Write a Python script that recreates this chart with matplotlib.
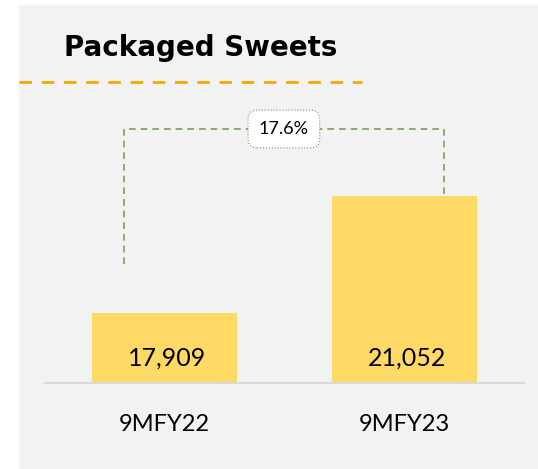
import numpy as np
import matplotlib.pyplot as plt
from matplotlib.patches import Rectangle

# data
categorias = ["9MFY22", "9MFY23"]
valores = [17909, 21052]
crecimiento = "17.6%"
titulo = "Packaged Sweets"

fig = plt.figure(figsize=(5.38, 4.69), dpi=100)
fig.patch.set_facecolor("white")

# fondo gris del panel
fig.patches.append(Rectangle((19 / 538, 0), 1, 1 - 5 / 469, transform=fig.transFigure,
                             facecolor="#f2f2f2", edgecolor="none", zorder=-5))

# titulo y linea naranja
fig.text(64 / 538, 1 - 48 / 469, titulo, fontsize=20, fontweight="bold",
         family="DejaVu Sans", va="center", ha="left", color="black")
fig.add_artist(plt.Line2D([19 / 538, 362 / 538], [1 - 82 / 469, 1 - 82 / 469],
                          transform=fig.transFigure, color="#f5a800", lw=2,
                          linestyle=(0, (4.5, 3.5))))

ax = fig.add_axes([45 / 538, 86 / 469, 479 / 538, 283 / 469])
ax.set_facecolor("none")
x = np.arange(len(categorias))
ax.bar(x, valores, width=0.607, color="#ffd966", zorder=2)
ax.set_xlim(-0.5, 1.5)
base = 16030
ax.set_ylim(base, base + 283 * 26.85)

for xi, v in zip(x, valores):
    ax.text(xi + 0.01, base + 25 * 26.85, f"{v:,}", ha="center", va="center",
            fontsize=18, family="Lato", color="black", zorder=3)

ax.set_xticks(x)
ax.set_xticklabels(categorias, fontsize=17, family="Lato")
ax.tick_params(axis="x", length=0, pad=22)
ax.set_yticks([])
for s in ["top", "left", "right"]:
    ax.spines[s].set_visible(False)
ax.spines["bottom"].set_color("#d9d9d9")
ax.spines["bottom"].set_linewidth(1.5)

# corchete de crecimiento
tope = max(valores) * 1.0854
x_izq = x[0] - 0.17
x_der = x[1] + 0.165
verde = "#77a05a"
ax.plot([x_izq, x_izq, x_der, x_der], [valores[0] * 1.0735, tope, tope, valores[1]],
        color=verde, lw=1.2, linestyle=(0, (4, 3)), zorder=1)
ax.text((x_izq + x_der) / 2, tope, crecimiento, ha="center", va="center", fontsize=13,
        family="Lato", color="black", zorder=4,
        bbox=dict(boxstyle="round,pad=0.6,rounding_size=0.5", facecolor="white",
                  edgecolor=verde, linestyle=":", linewidth=0.8))

fig.savefig("out.png", dpi=100)
